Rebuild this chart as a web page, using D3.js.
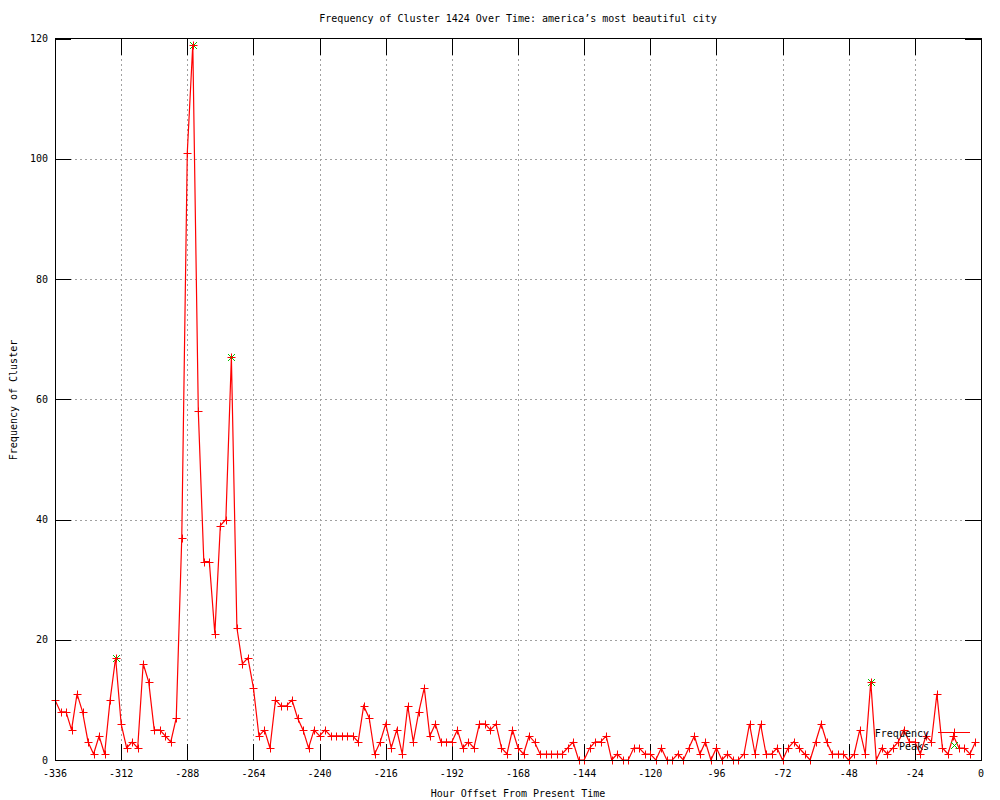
<!DOCTYPE html>
<html lang="en">
<head>
<meta charset="UTF-8">
<title>Frequency of Cluster 1424</title>
<script src="https://d3js.org/d3.v7.min.js"></script>
<style>
  body { margin: 0; background: #fff; }
  text { font-family: "DejaVu Sans Mono", monospace; font-size: 10px; fill: #000; }
</style>
</head>
<body>
<svg width="1000" height="800"></svg>
<script>
    // one reading every 2 hours, from -336 up to -2
    var hours = d3.range(-336, 0, 2);
    var frequency = [
        10, 8, 8, 5, 11, 8, 3, 1, 4, 1, 10, 17, 6, 2, 3, 2, 16, 13, 5, 5,
        4, 3, 7, 37, 101, 119, 58, 33, 33, 21, 39, 40, 67, 22, 16, 17, 12,
        4, 5, 2, 10, 9, 9, 10, 7, 5, 2, 5, 4, 5, 4, 4, 4, 4, 4, 3, 9, 7, 1,
        3, 6, 2, 5, 1, 9, 3, 8, 12, 4, 6, 3, 3, 3, 5, 2, 3, 2, 6, 6, 5, 6, 2, 1, 5, 2, 1, 4, 3,
        1, 1, 1, 1, 1, 2, 3, 0, 0, 2, 3, 3, 4, 0, 1, 0, 0, 2, 2, 1, 1, 0, 2, 0, 0, 1, 0, 2, 4,
        1, 3, 0, 2, 0, 1, 0, 0, 1, 6, 1, 6, 1, 1, 2, 0, 2, 3, 2, 1, 0, 3, 6, 3, 1, 1, 1, 0, 1,
        5, 1, 13, 0, 2, 1, 2, 3, 5, 3, 3, 1, 4, 3, 11, 2, 1, 4, 2, 2, 1, 3
    ];
    var peakHours = [-314, -286, -272, -40];
    var peakValues = [17, 119, 67, 13];
    var xTicks = d3.range(-336, 1, 24);
    var yTicks = d3.range(0, 121, 20);

    var svg = d3.select("svg");
    var pL = 55, pR = 981, pT = 38.5, pB = 760;
    var tickLen = 16;

    var x = d3.scaleLinear().domain([-336, 0]).range([pL, pR]);
    var y = d3.scaleLinear().domain([0, 120]).range([pB, pT]);

    // snap to pixel centre so 1px strokes stay sharp
    function px(v) { return Math.round(v) + 0.5; }

    // grid
    var grid = svg.append("g")
        .attr("stroke", "#a0a0a0")
        .attr("stroke-dasharray", "2,3")
        .attr("shape-rendering", "crispEdges");
    grid.selectAll(".gx")
        .data(xTicks.slice(1, -1))
        .enter().append("line")
        .attr("x1", function (d) { return px(x(d)); })
        .attr("x2", function (d) { return px(x(d)); })
        .attr("y1", pT)
        .attr("y2", pB);
    grid.selectAll(".gy")
        .data(yTicks.slice(1, -1))
        .enter().append("line")
        .attr("x1", pL)
        .attr("x2", pR)
        .attr("y1", function (d) { return px(y(d)); })
        .attr("y2", function (d) { return px(y(d)); });

    // ticks on all four sides, pointing inwards
    var ticks = svg.append("g")
        .attr("stroke", "#000")
        .attr("shape-rendering", "crispEdges");
    xTicks.forEach(function (t) {
        ticks.append("line").attr("x1", px(x(t))).attr("x2", px(x(t))).attr("y1", pB).attr("y2", pB - tickLen);
        ticks.append("line").attr("x1", px(x(t))).attr("x2", px(x(t))).attr("y1", pT).attr("y2", pT + tickLen);
    });
    yTicks.forEach(function (t) {
        ticks.append("line").attr("x1", pL).attr("x2", pL + tickLen).attr("y1", px(y(t))).attr("y2", px(y(t)));
        ticks.append("line").attr("x1", pR).attr("x2", pR - tickLen).attr("y1", px(y(t))).attr("y2", px(y(t)));
    });

    // tick labels
    svg.append("g").selectAll("text")
        .data(xTicks)
        .enter().append("text")
        .attr("x", function (d) { return x(d); })
        .attr("y", 777)
        .attr("text-anchor", "middle")
        .text(function (d) { return d; });
    svg.append("g").selectAll("text")
        .data(yTicks)
        .enter().append("text")
        .attr("x", 48)
        .attr("y", function (d) { return y(d); })
        .attr("dy", "0.35em")
        .attr("text-anchor", "end")
        .text(function (d) { return d; });

    // titles
    svg.append("text")
        .attr("x", 518).attr("y", 22)
        .attr("text-anchor", "middle")
        .text("Frequency of Cluster 1424 Over Time: america\u2019s most beautiful city");
    svg.append("text")
        .attr("x", 518).attr("y", 797)
        .attr("text-anchor", "middle")
        .text("Hour Offset From Present Time");
    svg.append("text")
        .attr("transform", "translate(17,400) rotate(-90)")
        .attr("text-anchor", "middle")
        .text("Frequency of Cluster");

    function cross(g, cx, cy, r, col) {
        cx = px(cx); cy = px(cy);
        g.append("line").attr("stroke", col).attr("x1", cx - r).attr("y1", cy - r).attr("x2", cx + r).attr("y2", cy + r);
        g.append("line").attr("stroke", col).attr("x1", cx - r).attr("y1", cy + r).attr("x2", cx + r).attr("y2", cy - r);
    }
    function plus(g, cx, cy, r, col) {
        cx = px(cx); cy = px(cy);
        g.append("line").attr("stroke", col).attr("x1", cx - r).attr("y1", cy).attr("x2", cx + r).attr("y2", cy);
        g.append("line").attr("stroke", col).attr("x1", cx).attr("y1", cy - r).attr("x2", cx).attr("y2", cy + r);
    }

    // peaks (green x)
    var peaks = svg.append("g");
    peakHours.forEach(function (h, i) {
        cross(peaks, x(h), y(peakValues[i]), 3.5, "#00c000");
    });

    // frequency line with + points
    var line = d3.line()
        .x(function (d, i) { return x(hours[i]); })
        .y(function (d) { return y(d); });
    svg.append("path")
        .datum(frequency)
        .attr("fill", "none")
        .attr("stroke", "#ff0000")
        .attr("stroke-width", 1.2)
        .attr("d", line);
    var pts = svg.append("g");
    frequency.forEach(function (v, i) {
        plus(pts, x(hours[i]), y(v), 4, "#ff0000");
    });

    // border
    svg.append("rect")
        .attr("x", pL + 0.5).attr("y", pT)
        .attr("width", pR - pL).attr("height", pB - pT)
        .attr("fill", "none")
        .attr("stroke", "#000")
        .attr("shape-rendering", "crispEdges");

    // key
    svg.append("text").attr("x", 929).attr("y", 736.5).attr("text-anchor", "end").text("Frequency");
    svg.append("text").attr("x", 929).attr("y", 749.5).attr("text-anchor", "end").text("Peaks");
    var key = svg.append("g");
    key.append("line").attr("stroke", "#ff0000").attr("x1", 938).attr("x2", 970).attr("y1", 732.5).attr("y2", 732.5);
    plus(key, 954, 732, 4, "#ff0000");
    cross(key, 954, 745, 3.5, "#00c000");
</script>
</body>
</html>
